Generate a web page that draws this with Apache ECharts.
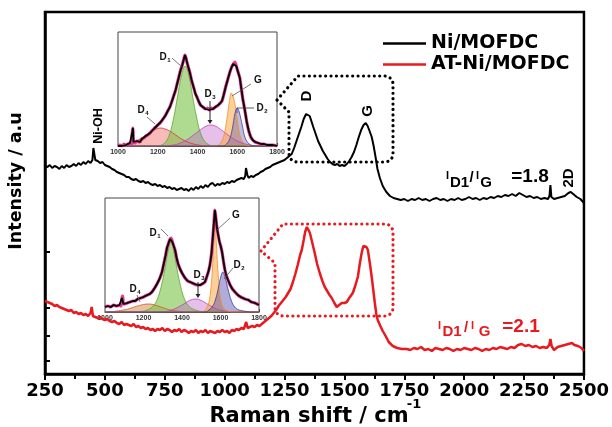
<!DOCTYPE html>
<html>
<head>
<meta charset="utf-8">
<script src="https://cdn.jsdelivr.net/npm/echarts@6/dist/echarts.min.js"></script>
<style>
  html, body { margin: 0; padding: 0; background: #fff; }
  #chart { width: 612px; height: 427px; }
</style>
</head>
<body>
<div id="chart"></div>
<script>
// ---- Raman spectra (Raman shift in cm-1, intensity in a.u.) ----
const niSpectrum = [
  [250,208],[260,207],[270,209],[280,206],[290,208],[300,207],[310,205],[320,208],[330,206],[340,209],
  [350,207],[360,208],[370,210],[380,208],[390,211],[400,209],[410,212],[420,210],[430,213],[440,211],
  [448,214],[452,226],[456,225],[460,214],[470,213],[480,211],[490,212],[500,209],[510,208],[520,207],
  [530,205],[540,204],[550,202],[560,201],[570,200],[580,199],[590,197],[600,197],[610,195],[620,194],
  [630,195],[640,193],[650,192],[660,193],[670,191],[680,192],[690,190],[700,189],[710,190],[720,188],
  [730,189],[740,187],[750,188],[760,186],[770,187],[780,185],[790,186],[800,184],[810,185],[820,186],
  [830,184],[840,185],[850,183],[860,186],[870,184],[880,187],[890,185],[900,188],[910,186],[920,189],
  [930,187],[940,190],[950,191],[960,188],[970,190],[980,189],[990,191],[1000,190],[1010,192],[1020,191],
  [1030,193],[1040,192],[1050,194],[1060,195],[1070,196],[1080,195],[1086,198],[1089,206],[1092,208],[1095,199],
  [1100,196],[1110,198],[1120,197],[1130,199],[1140,200],[1150,202],[1160,203],[1170,205],[1180,206],[1190,207],
  [1200,209],[1210,210],[1220,211],[1230,212],[1240,213],[1250,214],[1260,216],[1270,218],[1280,220],[1290,226],
  [1300,233],[1310,240],[1320,247],[1330,255],[1340,260],[1347,262],[1355,258],[1362,253],[1370,247],[1380,240],
  [1390,233],[1400,228],[1410,223],[1420,219],[1430,215],[1440,212],[1450,210],[1460,209],[1470,210],[1480,208],
  [1490,209],[1500,208],[1510,210],[1520,213],[1530,217],[1540,222],[1550,229],[1560,237],[1570,244],[1580,249],
  [1589,251],[1597,248],[1605,243],[1614,237],[1622,228],[1630,217],[1638,205],[1648,196],[1660,188],[1675,182],
  [1690,178],[1705,176],[1720,175],[1735,174],[1750,175],[1765,173],[1780,175],[1795,174],[1810,176],[1825,174],
  [1840,175],[1855,173],[1870,175],[1885,176],[1900,174],[1915,175],[1930,173],[1945,175],[1960,174],[1975,176],
  [1990,174],[2005,175],[2020,177],[2035,175],[2050,176],[2065,174],[2080,176],[2095,175],[2110,177],[2125,176],
  [2140,178],[2155,177],[2170,179],[2185,178],[2200,180],[2215,178],[2230,181],[2245,179],[2260,177],[2275,178],
  [2290,176],[2305,177],[2320,175],[2335,176],[2350,175],[2356,178],[2360,189],[2364,177],[2375,175],[2390,176],
  [2405,177],[2420,178],[2435,181],[2445,182],[2455,180],[2470,177],[2485,175],[2500,171]
];

const atNiSpectrum = [
  [250,73],[260,72],[270,71],[280,70],[290,68],[300,69],[310,67],[320,66],[330,65],[340,64],
  [350,63],[360,64],[370,61],[380,62],[390,60],[400,61],[410,59],[420,60],[430,58],[440,61],
  [445,67],[450,58],[460,57],[470,56],[480,57],[490,55],[500,54],[510,55],[520,53],[530,52],
  [540,53],[550,51],[560,50],[570,52],[580,49],[590,50],[600,49],[610,48],[620,50],[630,47],
  [640,48],[650,46],[660,47],[670,45],[680,46],[690,44],[700,45],[710,43],[720,45],[730,44],
  [740,46],[750,43],[760,45],[770,44],[780,42],[790,44],[800,43],[810,45],[820,42],[830,44],
  [840,43],[850,41],[860,43],[870,42],[880,44],[890,41],[900,43],[910,42],[920,44],[930,41],
  [940,43],[950,42],[960,41],[970,43],[980,42],[990,44],[1000,42],[1010,43],[1020,41],[1030,44],
  [1040,43],[1050,45],[1060,44],[1070,46],[1080,45],[1087,47],[1090,52],[1093,53],[1096,46],[1105,47],
  [1115,48],[1125,47],[1135,49],[1145,48],[1155,50],[1165,52],[1175,54],[1185,56],[1195,58],[1205,61],
  [1215,64],[1225,68],[1235,71],[1245,74],[1255,77],[1265,81],[1275,85],[1285,92],[1295,100],[1305,109],
  [1315,119],[1322,124],[1330,134],[1336,142],[1343,147],[1350,144],[1356,141],[1366,131],[1376,121],[1386,110],
  [1397,101],[1408,93],[1418,87],[1428,83],[1438,79],[1447,76],[1458,71],[1468,67],[1478,69],[1489,71],
  [1500,71],[1510,72],[1520,76],[1535,81],[1545,88],[1556,97],[1564,110],[1572,121],[1579,128],[1585,129],
  [1592,127],[1598,124],[1606,111],[1614,97],[1620,85],[1627,71],[1633,60],[1639,54],[1650,48],[1660,43],
  [1672,38],[1685,32],[1702,28],[1720,26],[1740,25],[1760,25],[1775,24],[1790,26],[1805,25],[1820,27],
  [1835,24],[1850,25],[1865,23],[1880,26],[1895,25],[1910,24],[1925,26],[1940,25],[1955,23],[1970,25],
  [1985,24],[2000,26],[2015,25],[2030,24],[2045,26],[2060,25],[2075,23],[2090,25],[2105,24],[2120,26],
  [2135,25],[2150,27],[2165,26],[2180,25],[2195,27],[2210,26],[2225,29],[2240,30],[2255,28],[2270,29],
  [2285,27],[2300,28],[2315,26],[2330,27],[2345,26],[2355,29],[2360,35],[2365,28],[2375,24],[2390,27],
  [2405,28],[2420,29],[2435,30],[2450,31],[2460,29],[2475,28],[2490,26],[2500,23]
];

// ---- D/G band deconvolution, Ni/MOFDC (1000-1800 cm-1) ----
const niFitData = [
  [1000,0],[1010,1],[1020,0],[1030,2],[1040,1],[1050,2],[1060,3],[1068,2],[1072,14],[1075,18],
  [1078,4],[1085,3],[1095,5],[1110,4],[1120,7],[1130,8],[1140,10],[1150,11],[1161,13],[1170,15],
  [1180,17],[1190,19],[1200,21],[1211,23],[1220,25],[1230,28],[1240,31],[1250,35],[1261,39],[1270,44],
  [1280,50],[1290,56],[1296,61],[1305,68],[1315,76],[1322,80],[1330,86],[1337,91],[1342,88],[1348,83],
  [1355,78],[1362,73],[1370,66],[1380,59],[1390,52],[1397,49],[1405,45],[1415,41],[1427,39],[1440,37],
  [1450,38],[1460,36],[1470,38],[1477,37],[1490,39],[1500,40],[1510,42],[1523,45],[1533,52],[1543,60],
  [1553,67],[1563,74],[1572,79],[1580,82],[1588,84],[1595,80],[1604,74],[1613,68],[1620,58],[1628,47],
  [1638,36],[1648,24],[1658,15],[1668,9],[1678,6],[1690,4],[1705,3],[1720,2],[1735,2],[1749,1],
  [1765,1],[1780,1],[1800,0]
];
const niD4 = [[1000,0.5],[1040,1.5],[1080,4],[1110,7],[1140,11],[1170,15],[1200,17.5],[1215,18],[1230,17.5],[1260,15],[1290,11],[1320,7],[1350,4],[1380,2],[1420,0.5],[1460,0],[1800,0]];
const niD1 = [[1000,0],[1200,0],[1220,1],[1240,4],[1260,12],[1280,28],[1300,50],[1320,71],[1338,80],[1355,72],[1375,50],[1395,29],[1415,13],[1435,5],[1455,1.5],[1480,0],[1800,0]];
const niD3 = [[1000,0],[1220,0],[1260,0.5],[1300,2],[1340,5.5],[1380,11],[1420,17],[1445,20],[1465,21],[1490,20],[1520,16],[1560,10],[1600,5],[1640,2],[1680,0.5],[1720,0],[1800,0]];
const niG = [[1000,0],[1480,0],[1500,0.5],[1520,4],[1535,12],[1550,30],[1560,44],[1570,53],[1580,49],[1590,40],[1605,20],[1620,7],[1640,1.5],[1660,0],[1800,0]];
const niD2 = [[1000,0],[1520,0],[1540,1],[1560,6],[1575,17],[1590,34],[1600,38],[1610,34],[1625,21],[1640,8],[1660,2],[1680,0.3],[1700,0],[1800,0]];

// ---- D/G band deconvolution, AT-Ni/MOFDC (1000-1800 cm-1) ----
const atFitData = [
  [1000,5],[1015,6],[1030,5],[1045,7],[1060,6],[1075,7],[1083,6],[1088,14],[1092,16],[1096,8],
  [1104,8],[1115,9],[1130,10],[1145,11],[1156,11],[1170,13],[1185,14],[1200,15],[1208,16],[1220,17],
  [1232,18],[1244,20],[1258,24],[1270,28],[1283,33],[1296,40],[1305,48],[1314,56],[1322,64],[1332,70],
  [1338,73],[1343,74],[1350,70],[1357,66],[1364,62],[1372,54],[1380,48],[1390,43],[1400,39],[1416,34],
  [1430,31],[1442,30],[1452,29],[1465,28],[1475,27],[1483,27],[1495,27],[1505,28],[1519,30],[1530,36],
  [1538,41],[1545,47],[1553,58],[1561,77],[1566,90],[1571,102],[1576,94],[1581,85],[1587,78],[1595,70],
  [1601,66],[1608,60],[1616,50],[1623,42],[1631,36],[1639,32],[1650,27],[1662,23],[1675,20],[1690,17],
  [1705,15],[1727,13],[1745,12],[1760,10],[1779,9],[1800,7]
];
const atD4 = [[1000,0],[1040,0.5],[1080,1.5],[1120,3],[1160,5.5],[1200,7.5],[1225,8],[1250,7.5],[1290,5],[1330,2.5],[1370,1],[1420,0],[1800,0]];
const atD1 = [[1000,0],[1180,0.5],[1220,2],[1250,6],[1270,12],[1290,24],[1310,42],[1325,58],[1343,70],[1360,58],[1375,42],[1395,24],[1415,12],[1440,5],[1470,2],[1500,0.5],[1530,0],[1800,0]];
const atD3 = [[1000,0],[1300,0],[1320,0.5],[1360,3],[1400,7],[1440,11.5],[1470,13],[1500,11.5],[1540,7],[1580,3],[1620,1],[1660,0],[1800,0]];
const atG = [[1000,0],[1500,0],[1520,2],[1535,7],[1545,15],[1555,34],[1563,60],[1571,88],[1578,70],[1585,46],[1595,22],[1605,9],[1620,3],[1640,1],[1660,0],[1800,0]];
const atD2 = [[1000,0],[1520,0],[1540,2],[1560,6],[1575,13],[1590,25],[1600,34],[1612,40],[1625,34],[1640,22],[1655,12],[1670,6],[1690,2.5],[1720,1],[1760,0],[1800,0]];

const xTicksMain = [250, 2500, 250];   // min, max, step
const xTicksInset = [1000, 1800, 200];

const WIDE = 'DejaVu Sans, Verdana, sans-serif';
const ARIAL = 'Liberation Sans, Arial, sans-serif';
const RED = '#e8191f';

// ---- helpers for annotation graphics ----
function label(x, y, text, size, color, rot, family) {
  return {
    type: 'text', x: x, y: y, rotation: rot || 0, z: 100,
    style: { text: text, fill: color || '#000', fontSize: size, fontWeight: 'bold',
             fontFamily: family || ARIAL, align: 'center', verticalAlign: 'middle' }
  };
}
function bandLabel(x, y, main, sub) {
  const out = [label(x, y, main, 10, '#111')];
  if (sub) out.push(label(x + 6, y + 3, sub, 6, '#111'));
  return out;
}
function leader(x1, y1, x2, y2, color) {
  return { type: 'line', z: 100, shape: { x1, y1, x2, y2 },
           style: { stroke: color || '#555', lineWidth: 0.8 } };
}
function arrowDown(x, y1, y2) {
  return [
    { type: 'line', z: 100, shape: { x1: x, y1: y1, x2: x, y2: y2 - 3 }, style: { stroke: '#222', lineWidth: 1 } },
    { type: 'polygon', z: 100, shape: { points: [[x - 2.5, y2 - 4], [x + 2.5, y2 - 4], [x, y2]] }, style: { fill: '#222' } }
  ];
}
// rounded dotted callout frame: left tip, then the box with rounded right/bottom-left corners
function arcPts(cx, cy, r, a0, a1) {
  const pts = [];
  for (let i = 0; i <= 6; i++) {
    const a = (a0 + (a1 - a0) * i / 6) * Math.PI / 180;
    pts.push([cx + r * Math.cos(a), cy + r * Math.sin(a)]);
  }
  return pts;
}
function callout(tip, topLeft, right, bottom, leftX, leftTop, color) {
  const r = 8;
  const pts = [tip, [topLeft[0], topLeft[1]], [right - r, topLeft[1]]]
    .concat(arcPts(right - r, topLeft[1] + r, r, -90, 0))
    .concat([[right, bottom - r]])
    .concat(arcPts(right - r, bottom - r, r, 0, 90))
    .concat([[leftX + r, bottom]])
    .concat(arcPts(leftX + r, bottom - r, r, 90, 180))
    .concat([[leftX, leftTop], tip]);
  return { type: 'polyline', z: 50, shape: { points: pts },
           style: { stroke: color, lineWidth: 3.2, lineDash: [0.01, 5.4], lineCap: 'round', fill: null } };
}

function comp(data, xi, fill, line) {
  return { type: 'line', data: data, xAxisIndex: xi, yAxisIndex: xi, smooth: 0.4, showSymbol: false,
           silent: true, lineStyle: { color: line, width: 0.8 }, areaStyle: { color: fill, origin: 0 },
           itemStyle: { color: line } };
}
const plain = v => String(v);
function insetX(i) {
  return { gridIndex: i, type: 'value', min: xTicksInset[0], max: xTicksInset[1], interval: xTicksInset[2],
           axisLine: { onZero: false, lineStyle: { color: '#444', width: 1 } },
           axisTick: { inside: true, length: 3, lineStyle: { color: '#444' } },
           axisLabel: { fontSize: 7, color: '#333', margin: 3, fontFamily: ARIAL, fontWeight: 'bold', formatter: plain },
           splitLine: { show: false } };
}
function insetY(i) {
  return { gridIndex: i, type: 'value', min: 0, max: 114, position: 'right',
           axisLine: { show: false }, axisTick: { inside: true, length: 3, lineStyle: { color: '#444' } },
           axisLabel: { show: false }, splitLine: { show: false } };
}

const chart = echarts.init(document.getElementById('chart'), null, { renderer: 'canvas' });

const graphics = [
  // axis titles
  label(16, 181, 'Intensity / a.u', 17.5, '#000', Math.PI / 2, WIDE),
  label(309, 417, 'Raman shift / cm', 21, '#000', 0, WIDE),
  label(414, 405, '-1', 13, '#000', 0, WIDE),
  // peak assignments on the main spectra
  label(99, 126, 'Ni-OH', 12.5, '#000', Math.PI / 2),
  label(307, 96, 'D', 15, '#000', Math.PI / 2),
  label(368, 111, 'G', 15, '#000', Math.PI / 2),
  label(569, 178, '2D', 15, '#000', Math.PI / 2),
  // intensity ratios
  label(447.5, 176, 'I', 11, '#000'), label(459.5, 183, 'D1', 15, '#000'),
  label(471.5, 178, '/', 15, '#000'), label(477.5, 176, 'I', 11, '#000'),
  label(486, 183, 'G', 15, '#000'), label(530, 177, '=1.8', 19, '#000'),
  label(439.5, 326, 'I', 11, RED), label(452, 332, 'D1', 15, RED),
  label(466, 328, '/', 15, RED), label(472.5, 326, 'I', 11, RED),
  label(484.5, 332, 'G', 15, RED), label(521, 327, '=2.1', 19, RED),
  // dotted callouts linking the insets to the D/G region
  callout([277, 100], [298, 76], 393, 162, 289, 112, '#000'),
  callout([261, 251], [283, 224], 393, 316, 275, 263, RED)
]
  // inset 1 band labels
  .concat(bandLabel(163, 57, 'D', '1'), [leader(172, 58, 182, 67)])
  .concat(bandLabel(141, 110, 'D', '4'), [leader(147, 117, 155, 124)])
  .concat(bandLabel(208, 94, 'D', '3'), arrowDown(210, 101, 124))
  .concat([label(258, 80, 'G', 10, '#111'), leader(251, 84, 232, 96)])
  .concat(bandLabel(260, 108, 'D', '2'), [leader(237, 108, 254, 108, '#333'), leader(237, 108, 237, 113, '#3030c0')])
  // inset 2 band labels
  .concat(bandLabel(153, 233, 'D', '1'), [leader(161, 229, 168, 236)])
  .concat(bandLabel(133, 289, 'D', '4'), [leader(137, 295, 140, 302)])
  .concat(bandLabel(197, 275, 'D', '3'), arrowDown(198, 282, 298))
  .concat([label(236, 215, 'G', 10, '#111'), leader(230, 218, 217, 230)])
  .concat(bandLabel(237, 265, 'D', '2'), [leader(233, 268, 224, 279)]);

const option = {
  animation: false,
  backgroundColor: '#fff',
  textStyle: { fontFamily: ARIAL },
  legend: {
    data: ['Ni/MOFDC', 'AT-Ni/MOFDC'],
    orient: 'vertical', left: 378, top: 29, itemGap: 2, itemStyle: { borderWidth: 0 },
    icon: 'rect', itemWidth: 43, itemHeight: 2.5,
    textStyle: { fontSize: 19, fontWeight: 'bold', color: '#000', fontFamily: WIDE }
  },
  grid: [
    { left: 45, right: 28, top: 12, bottom: 53, show: true, borderColor: '#000', borderWidth: 2.5, backgroundColor: '#fff' },
    { left: 118, right: 335, top: 32, bottom: 281, show: true, borderColor: '#444', borderWidth: 1, backgroundColor: '#fff', z: 3 },
    { left: 105, right: 353, top: 198, bottom: 115, show: true, borderColor: '#444', borderWidth: 1, backgroundColor: '#fff', z: 3 }
  ],
  xAxis: [
    { gridIndex: 0, type: 'value', min: xTicksMain[0], max: xTicksMain[1], interval: xTicksMain[2],
      axisLine: { onZero: false, lineStyle: { color: '#000', width: 2.5 } },
      axisTick: { length: 6, lineStyle: { color: '#000', width: 2 } },
      minorTick: { show: true, splitNumber: 2, length: 5, lineStyle: { color: '#000', width: 2 } },
      axisLabel: { fontSize: 18, fontWeight: 'bold', color: '#000', margin: 8, fontFamily: WIDE, formatter: plain },
      splitLine: { show: false } },
    insetX(1), insetX(2)
  ],
  yAxis: [
    { gridIndex: 0, type: 'value', min: 0, max: 362,
      axisLine: { show: true, lineStyle: { color: '#000', width: 2.5 } },
      axisTick: { show: true, inside: true, length: 5, lineStyle: { color: '#000', width: 2 },
                  customValues: [13, 38, 66, 122] },
      axisLabel: { show: false }, splitLine: { show: false } },
    insetY(1), insetY(2)
  ],
  series: [
    { name: 'Ni/MOFDC', type: 'line', data: niSpectrum, xAxisIndex: 0, yAxisIndex: 0, showSymbol: false,
      color: '#000', lineStyle: { color: '#000', width: 2 } },
    { name: 'AT-Ni/MOFDC', type: 'line', data: atNiSpectrum, xAxisIndex: 0, yAxisIndex: 0, showSymbol: false,
      color: RED, lineStyle: { color: RED, width: 2.5 } },

    comp(niD4, 1, 'rgba(240,90,90,0.6)', '#e03030'),
    comp(niD1, 1, 'rgba(120,195,70,0.85)', '#5aa830'),
    comp(niD3, 1, 'rgba(190,90,200,0.55)', '#c040c0'),
    comp(niG, 1, 'rgba(250,170,70,0.8)', '#f09030'),
    comp(niD2, 1, 'rgba(90,80,170,0.55)', '#4040a0'),
    { type: 'line', data: niFitData, xAxisIndex: 1, yAxisIndex: 1, showSymbol: false, smooth: 0.3,
      lineStyle: { color: '#e6388f', width: 3.2 }, z: 4 },
    { type: 'line', data: niFitData, xAxisIndex: 1, yAxisIndex: 1, showSymbol: false,
      lineStyle: { color: '#000', width: 1.8 }, z: 5 },

    comp(atD4, 2, 'rgba(205,120,50,0.65)', '#d05a20'),
    comp(atD1, 2, 'rgba(120,195,70,0.85)', '#5aa830'),
    comp(atD3, 2, 'rgba(190,90,200,0.55)', '#c040c0'),
    comp(atG, 2, 'rgba(250,170,70,0.8)', '#f09030'),
    comp(atD2, 2, 'rgba(70,60,170,0.6)', '#3a3aa0'),
    { type: 'line', data: atFitData, xAxisIndex: 2, yAxisIndex: 2, showSymbol: false, smooth: 0.3,
      lineStyle: { color: '#e6388f', width: 3.2 }, z: 4 },
    { type: 'line', data: atFitData, xAxisIndex: 2, yAxisIndex: 2, showSymbol: false,
      lineStyle: { color: '#000', width: 1.8 }, z: 5 }
  ],
  graphic: graphics
};

chart.setOption(option);
</script>
</body>
</html>
